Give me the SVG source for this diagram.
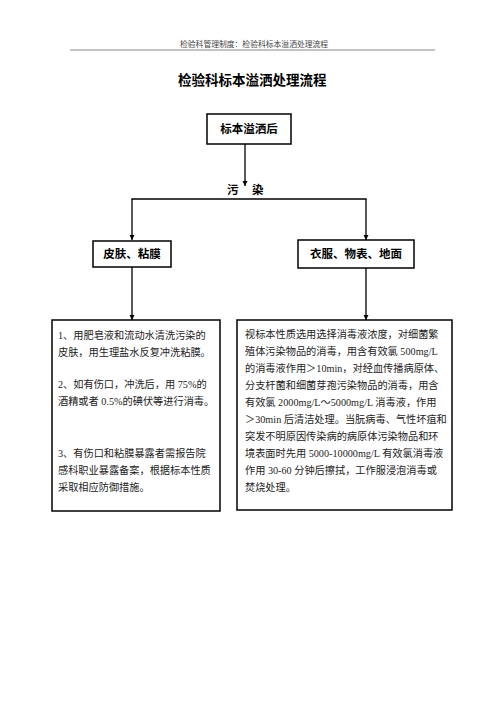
<svg xmlns="http://www.w3.org/2000/svg" width="500" height="707" viewBox="0 0 500 707">
<defs>
<style>
.box{fill:#fff;stroke:#000;stroke-width:1.5}
.ln{fill:none;stroke:#000;stroke-width:1.3}
.hd{font-family:"Liberation Serif","Noto Sans CJK SC",serif;font-size:7.8px;fill:#444}
.ttl{font-family:"Liberation Sans","Noto Sans CJK SC",sans-serif;font-size:13.5px;font-weight:bold;fill:#000}
.lbl{font-family:"Liberation Sans","Noto Sans CJK SC",sans-serif;font-size:11.5px;font-weight:bold;fill:#000}
.body{font-family:"Liberation Serif","Noto Sans CJK SC",serif;font-size:10.2px;fill:#222}
</style>
<marker id="arr" viewBox="0 0 10 10" refX="10" refY="5" markerWidth="4" markerHeight="4" markerUnits="strokeWidth" orient="auto">
<path d="M0,0 L10,5 L0,10 z" fill="#000"/>
</marker>
</defs>
<rect width="500" height="707" fill="#fff"/>
<g id="header">
<text class="hd" x="180" y="47">检验科管理制度：检验科标本溢洒处理流程</text>
<line x1="70" y1="50" x2="435" y2="50" stroke="#888" stroke-width="1.2"/>
</g>
<g id="title">
<text class="ttl" x="178" y="85">检验科标本溢洒处理流程</text>
</g>
<g id="connectors">
<line class="ln" x1="245" y1="144" x2="245" y2="186" marker-end="url(#arr)"/>
<line class="ln" x1="131.35" y1="199" x2="366.65" y2="199"/>
<line class="ln" x1="132" y1="199" x2="132" y2="240" marker-end="url(#arr)"/>
<line class="ln" x1="366" y1="199" x2="366" y2="240" marker-end="url(#arr)"/>
<line class="ln" x1="132" y1="267" x2="132" y2="320" marker-end="url(#arr)"/>
<line class="ln" x1="366" y1="268" x2="366" y2="320" marker-end="url(#arr)"/>
<text class="lbl"><tspan x="227" y="194">污</tspan><tspan x="252" y="194">染</tspan></text>
</g>
<g id="start">
<rect class="box" x="207" y="114" width="84" height="30"/>
<text class="lbl" x="249" y="133" text-anchor="middle">标本溢洒后</text>
</g>
<g id="skin">
<rect class="box" x="93" y="241" width="78" height="26"/>
<text class="lbl" x="132" y="258" text-anchor="middle">皮肤、粘膜</text>
</g>
<g id="surface">
<rect class="box" x="298" y="240" width="116" height="28"/>
<text class="lbl" x="356" y="258" text-anchor="middle">衣服、物表、地面</text>
</g>
<g id="skin-steps">
<rect class="box" x="52" y="320" width="168" height="191"/>
<text class="body" x="58" y="338.5">1、用肥皂液和流动水清洗污染的</text>
<text class="body" x="58" y="355.5">皮肤，用生理盐水反复冲洗粘膜。</text>
<text class="body" x="58" y="387.5">2、如有伤口，冲洗后，用 75%的</text>
<text class="body" x="58" y="404.5">酒精或者 0.5%的碘伏等进行消毒。</text>
<text class="body" x="58" y="456.5">3、有伤口和粘膜暴露者需报告院</text>
<text class="body" x="58" y="473.5">感科职业暴露备案，根据标本性质</text>
<text class="body" x="58" y="490.5">采取相应防御措施。</text>
</g>
<g id="surface-steps">
<rect class="box" x="237" y="320" width="215" height="190"/>
<text class="body" x="245" y="338">视标本性质选用选择消毒液浓度，对细菌繁</text>
<text class="body" x="245" y="355">殖体污染物品的消毒，用含有效氯 500mg/L</text>
<text class="body" x="245" y="372">的消毒液作用＞10min，对经血传播病原体、</text>
<text class="body" x="245" y="389">分支杆菌和细菌芽孢污染物品的消毒，用含</text>
<text class="body" x="245" y="406">有效氯 2000mg/L～5000mg/L 消毒液，作用</text>
<text class="body" x="245" y="423">＞30min 后清洁处理。当朊病毒、气性坏疽和</text>
<text class="body" x="245" y="440">突发不明原因传染病的病原体污染物品和环</text>
<text class="body" x="245" y="457">境表面时先用 5000-10000mg/L 有效氯消毒液</text>
<text class="body" x="245" y="474">作用 30-60 分钟后擦拭，工作服浸泡消毒或</text>
<text class="body" x="245" y="491">焚烧处理。</text>
</g>
</svg>
